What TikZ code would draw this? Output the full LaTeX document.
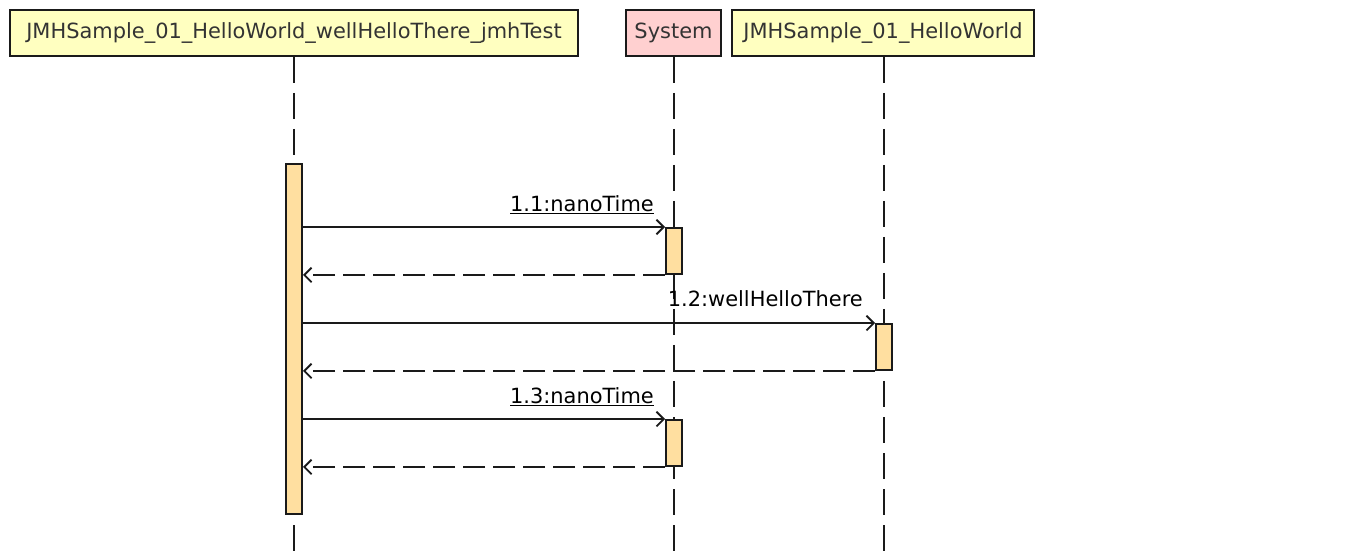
\documentclass[tikz,border=0pt]{standalone}
\usepackage{fontspec}
\setmainfont{DejaVu Sans}
\usetikzlibrary{arrows.meta}
\definecolor{hdryellow}{HTML}{FFFFC0}
\definecolor{hdrpink}{HTML}{FFD0D0}
\definecolor{actfill}{HTML}{FFDFA0}
\definecolor{hdrtext}{HTML}{333333}
\definecolor{edge}{HTML}{1A1A1A}
\tikzset{
  hdr/.style={draw=edge, line width=1.5pt, minimum height=34.5pt, inner sep=0pt,
              font=\fontsize{15.7}{18}\selectfont, text=hdrtext},
  life/.style={draw=edge, line width=1.4pt, dash pattern=on 19.5pt off 7.5pt},
  actbar/.style={draw=edge, fill=actfill, line width=1.4pt, minimum width=12pt, inner sep=0pt},
  msg/.style={draw=edge, line width=1.4pt, -{Straight Barb[length=5.5pt,width=11pt,line width=1.4pt]}},
  ret/.style={msg, dash pattern=on 16.5pt off 6pt},
  lbl/.style={font=\fontsize{15.7}{18}\selectfont, text=black, inner sep=0pt}
}
\begin{document}
\begin{tikzpicture}[x=0.75pt,y=-0.75pt]
\useasboundingbox (0,0) rectangle (1350,552);
% headers
\node[hdr, fill=hdryellow, minimum width=426pt] (h1) at (294,33) {JMHSample\_01\_HelloWorld\_wellHelloThere\_jmhTest};
\node[hdr, fill=hdrpink, minimum width=71.25pt] (h2) at (673.5,33) {System};
\node[hdr, fill=hdryellow, minimum width=226.5pt] (h3) at (883,33) {JMHSample\_01\_HelloWorld};
% lifeline ends
\coordinate (e1) at (294,552);
\coordinate (e2) at (674,552);
\coordinate (e3) at (884,552);
\draw[life] (h1.south) -- (e1);
\draw[life] (h2.south -| e2) -- (e2);
\draw[life] (h3.south -| e3) -- (e3);
% activations
\node[actbar, minimum height=262.5pt] (m) at (294,339) {};
\node[actbar, minimum height=34.5pt] (s1) at (674,251) {};
\node[actbar, minimum height=34.5pt] (w1) at (884,347) {};
\node[actbar, minimum height=34.5pt] (s2) at (674,443) {};
% messages
\draw[msg] (m.east |- s1.north west) -- (s1.north west);
\draw[ret] (s1.south west) -- (m.east |- s1.south west);
\draw[msg] (m.east |- w1.north west) -- (w1.north west);
\draw[ret] (w1.south west) -- (m.east |- w1.south west);
\draw[msg] (m.east |- s2.north west) -- (s2.north west);
\draw[ret] (s2.south west) -- (m.east |- s2.south west);
% labels
\node[lbl, anchor=base east] (l1) at ([xshift=-8.25pt, yshift=12pt]s1.north west) {\underline{1.1:nanoTime}};
\node[lbl, anchor=base east] (l2) at ([xshift=-9pt, yshift=12.75pt]w1.north west) {1.2:wellHelloThere};
\node[lbl, anchor=base east] (l3) at ([xshift=-8.25pt, yshift=12pt]s2.north west) {\underline{1.3:nanoTime}};
\end{tikzpicture}
\end{document}
